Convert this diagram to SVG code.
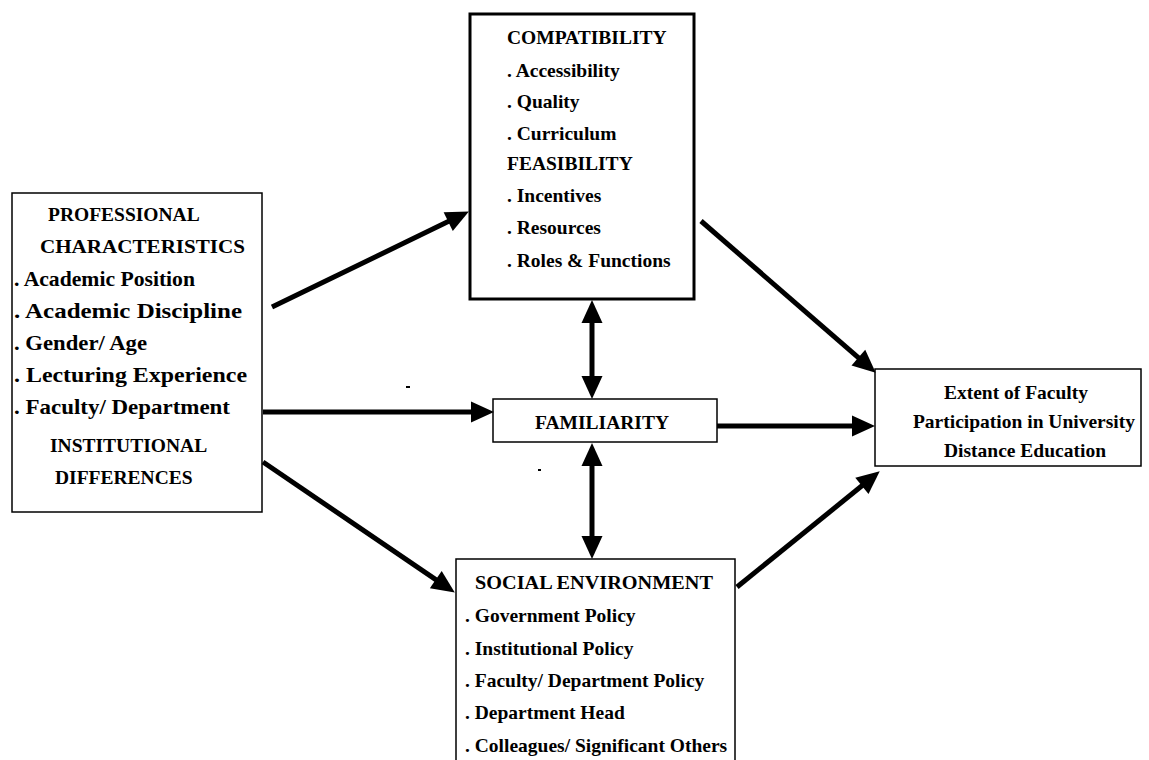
<svg xmlns="http://www.w3.org/2000/svg" width="1149" height="760" viewBox="0 0 1149 760">
  <style>
    text { font-family: "Liberation Serif", "Times New Roman", serif; font-size: 19.5px; font-weight: bold; fill: #000; }
    .mid { text-anchor: middle; }
    .wide { font-size: 21px; }
    .box { fill: #fff; stroke: #000; stroke-width: 1.5; }
    .box-thick { fill: #fff; stroke: #000; stroke-width: 3; }
    .conn { stroke: #000; stroke-width: 5; fill: none; stroke-linecap: butt; }
    .one { marker-end: url(#head); }
    .two { marker-start: url(#head); marker-end: url(#head); }
  </style>
  <defs>
    <marker id="head" markerUnits="userSpaceOnUse" markerWidth="23" markerHeight="21" refX="8" refY="10.5" orient="auto-start-reverse" overflow="visible">
      <path d="M0,0 L23,10.5 L0,21 Z" fill="#000"/>
    </marker>
  </defs>

  <rect width="1149" height="760" fill="#fff"/>

  <!-- professional characteristics (left) -->
  <g id="node-professional">
    <rect class="box" x="12" y="193" width="250" height="319"/>
    <text x="48" y="221">PROFESSIONAL</text>
    <text x="40" y="253" textLength="205" lengthAdjust="spacingAndGlyphs">CHARACTERISTICS</text>
    <text class="wide" x="14" y="286" textLength="181" lengthAdjust="spacingAndGlyphs">. Academic Position</text>
    <text class="wide" x="14" y="318" textLength="228" lengthAdjust="spacingAndGlyphs">. Academic Discipline</text>
    <text class="wide" x="14" y="350" textLength="133" lengthAdjust="spacingAndGlyphs">. Gender/ Age</text>
    <text class="wide" x="14" y="382" textLength="233" lengthAdjust="spacingAndGlyphs">. Lecturing Experience</text>
    <text class="wide" x="14" y="414" textLength="216" lengthAdjust="spacingAndGlyphs">. Faculty/ Department</text>
    <text x="50" y="452">INSTITUTIONAL</text>
    <text x="55" y="484">DIFFERENCES</text>
  </g>

  <!-- compatibility / feasibility (top) -->
  <g id="node-compatibility">
    <rect class="box-thick" x="470" y="14" width="224" height="285"/>
    <text x="507" y="44">COMPATIBILITY</text>
    <text x="507" y="77">. Accessibility</text>
    <text x="507" y="108">. Quality</text>
    <text x="507" y="140">. Curriculum</text>
    <text x="507" y="170">FEASIBILITY</text>
    <text x="507" y="202">. Incentives</text>
    <text x="507" y="234">. Resources</text>
    <text x="507" y="267">. Roles &amp; Functions</text>
  </g>

  <!-- familiarity (centre) -->
  <g id="node-familiarity">
    <rect class="box" x="493" y="399" width="224" height="43"/>
    <text class="mid" x="602" y="429">FAMILIARITY</text>
  </g>

  <!-- social environment (bottom, runs off the page) -->
  <g id="node-social">
    <path class="box" d="M456,762 V559 H735 V762"/>
    <text x="475" y="589" textLength="238" lengthAdjust="spacingAndGlyphs">SOCIAL ENVIRONMENT</text>
    <text x="465" y="622">. Government Policy</text>
    <text x="465" y="655">. Institutional Policy</text>
    <text x="465" y="687">. Faculty/ Department Policy</text>
    <text x="465" y="719">. Department Head</text>
    <text x="465" y="752">. Colleagues/ Significant Others</text>
  </g>

  <!-- outcome (right) -->
  <g id="node-outcome">
    <rect class="box" x="875" y="369" width="266" height="97"/>
    <text class="mid" x="1016" y="399">Extent of Faculty</text>
    <text class="mid" x="1024" y="428">Participation in University</text>
    <text class="mid" x="1025" y="457">Distance Education</text>
  </g>

  <!-- connectors -->
  <g id="connectors">
    <line class="conn one" x1="272" y1="307" x2="455.4" y2="218.1"/>
    <line class="conn one" x1="263" y1="412" x2="479" y2="412"/>
    <line class="conn one" x1="263" y1="462" x2="442.4" y2="584.1"/>
    <line class="conn two" x1="592" y1="315" x2="592" y2="384"/>
    <line class="conn two" x1="592" y1="458" x2="592" y2="544"/>
    <line class="conn one" x1="701" y1="221" x2="864.4" y2="362.8"/>
    <line class="conn one" x1="717" y1="426" x2="860" y2="426"/>
    <line class="conn one" x1="737" y1="587" x2="868.1" y2="480.8"/>
  </g>

  <!-- stray specks -->
  <rect x="406" y="386" width="4" height="2" fill="#000"/>
  <rect x="538" y="469" width="3" height="2" fill="#000"/>
</svg>
